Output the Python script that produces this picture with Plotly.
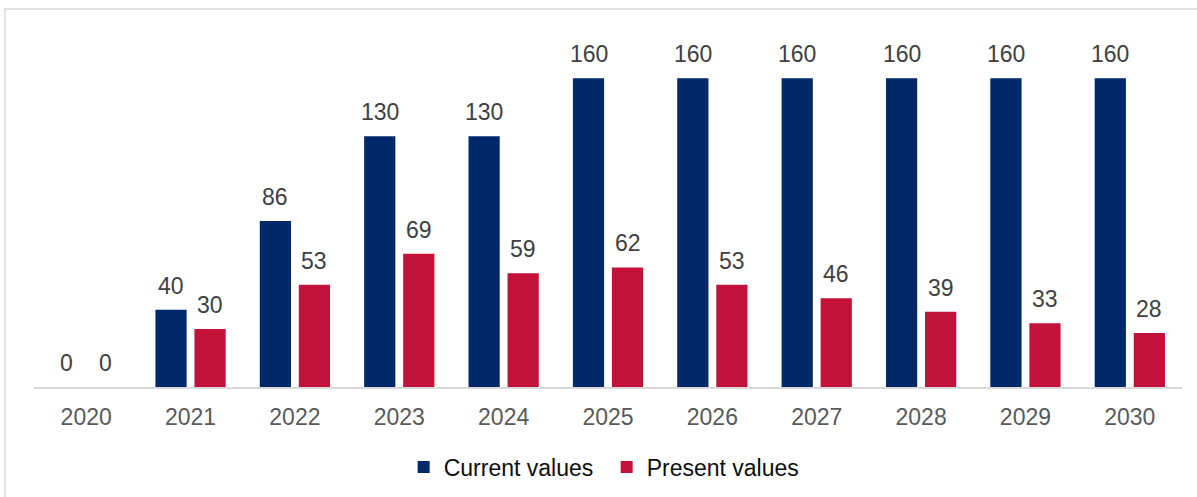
import plotly.graph_objects as go

# Chart data
years = ["2020", "2021", "2022", "2023", "2024", "2025", "2026", "2027", "2028", "2029", "2030"]
current_values = [0, 40, 86, 130, 130, 160, 160, 160, 160, 160, 160]
present_values = [0, 30, 53, 69, 59, 62, 53, 46, 39, 33, 28]

NAVY = "#00296B"
CRIMSON = "#C3123A"
FONT = "Liberation Sans, Arial, sans-serif"

fig = go.Figure()
fig.add_trace(go.Bar(x=years, y=current_values, name="Current values",
                     marker=dict(color=NAVY, line=dict(width=0))))
fig.add_trace(go.Bar(x=years, y=present_values, name="Present values",
                     marker=dict(color=CRIMSON, line=dict(width=0))))

# Value labels above each bar, shifted onto its slot in the group.
# Category axes place annotations by category index.
annotations = []
for series, shift in ((current_values, -19.5), (present_values, 19.5)):
    for i, v in enumerate(series):
        annotations.append(dict(
            x=i, y=v, xref="x", yref="y", text=str(v), showarrow=False,
            xshift=shift, yshift=9, yanchor="bottom",
            font=dict(family=FONT, size=23, color="#404040"),
        ))

fig.update_layout(
    width=1197, height=497,
    margin=dict(l=34, r=15, t=59, b=110, autoexpand=False),
    paper_bgcolor="white", plot_bgcolor="white",
    barmode="group", bargap=0.252, bargroupgap=0.2,
    font=dict(family=FONT, size=23, color="#595959"),
    showlegend=True,
    legend=dict(orientation="h", x=0.322, xanchor="left", y=-0.244, yanchor="middle",
                entrywidth=158, entrywidthmode="pixels",
                font=dict(family=FONT, size=23, color="#0D0D0D"),
                bgcolor="rgba(0,0,0,0)"),
    annotations=annotations,
    shapes=[dict(type="rect", xref="paper", yref="paper",
                 x0=-29 / 1148, x1=1.2, y0=-0.5, y1=1 + 50 / 328,
                 line=dict(color="#D9D9D9", width=1.5), fillcolor="rgba(0,0,0,0)",
                 layer="below")],
)
fig.update_xaxes(type="category", range=[-0.5, len(years) - 0.5], automargin=False,
                 showline=True, linecolor="#D9D9D9", linewidth=2, ticks="",
                 ticklabelstandoff=8,
                 showgrid=False, tickfont=dict(family=FONT, size=23, color="#595959"))
fig.update_yaxes(range=[0, 170], visible=False, showgrid=False, zeroline=False,
                 automargin=False)

fig.write_html("out.html")
